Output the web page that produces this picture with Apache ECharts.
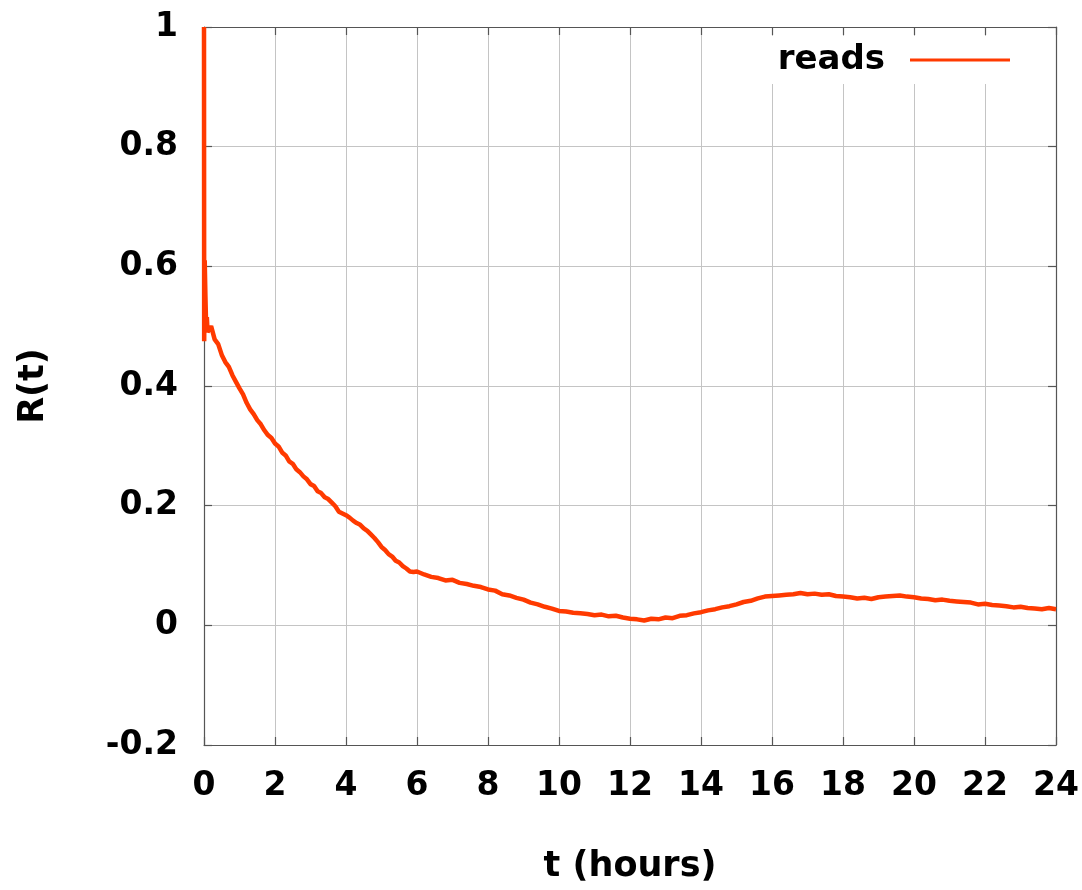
<!DOCTYPE html>
<html>
<head>
<meta charset="utf-8">
<script src="https://cdn.jsdelivr.net/npm/echarts@6/dist/echarts.min.js"></script>
<style>
html,body{margin:0;padding:0;background:#fff;}
#chart{width:1082px;height:890px;}
</style>
</head>
<body>
<div id="chart"></div>
<script>
const seriesName = 'reads';
const xTitle = 't (hours)';
const yTitle = 'R(t)';

const hours = [
  0, 0.005, 0.02, 0.04, 0.06, 0.08, 0.1,
  0.2, 0.3, 0.4, 0.5, 0.6, 0.7, 0.8, 0.9, 1.0,
  1.1, 1.2, 1.3, 1.4, 1.5, 1.6, 1.7, 1.8, 1.9, 2.0,
  2.1, 2.2, 2.3, 2.4, 2.5, 2.6, 2.7, 2.8, 2.9, 3.0,
  3.1, 3.2, 3.3, 3.4, 3.5, 3.6, 3.7, 3.8, 3.9, 4.0,
  4.1, 4.2, 4.3, 4.4, 4.5, 4.6, 4.7, 4.8, 4.9, 5.0,
  5.1, 5.2, 5.3, 5.4, 5.5, 5.6, 5.7, 5.8, 5.9, 6.0,
  6.2, 6.4, 6.6, 6.8, 7.0, 7.2, 7.4, 7.6, 7.8, 8.0,
  8.2, 8.4, 8.6, 8.8, 9.0, 9.2, 9.4, 9.6, 9.8, 10.0,
  10.2, 10.4, 10.6, 10.8, 11.0, 11.2, 11.4, 11.6, 11.8, 12.0,
  12.2, 12.4, 12.6, 12.8, 13.0, 13.2, 13.4, 13.6, 13.8, 14.0,
  14.2, 14.4, 14.6, 14.8, 15.0, 15.2, 15.4, 15.6, 15.8, 16.0,
  16.2, 16.4, 16.6, 16.8, 17.0, 17.2, 17.4, 17.6, 17.8, 18.0,
  18.2, 18.4, 18.6, 18.8, 19.0, 19.2, 19.4, 19.6, 19.8, 20.0,
  20.2, 20.4, 20.6, 20.8, 21.0, 21.2, 21.4, 21.6, 21.8, 22.0,
  22.2, 22.4, 22.6, 22.8, 23.0, 23.2, 23.4, 23.6, 23.8, 24.0
];

const reads = [
  1.0, 0.475, 0.61, 0.55, 0.50, 0.515, 0.49,
  0.50, 0.478, 0.47, 0.452, 0.44, 0.432, 0.418, 0.407, 0.396,
  0.386, 0.372, 0.361, 0.353, 0.343, 0.336, 0.326, 0.318, 0.313, 0.304,
  0.299, 0.289, 0.284, 0.274, 0.270, 0.261, 0.256, 0.249, 0.244, 0.236,
  0.233, 0.224, 0.221, 0.214, 0.211, 0.205, 0.199, 0.190, 0.187, 0.184,
  0.180, 0.175, 0.171, 0.168, 0.162, 0.158, 0.152, 0.146, 0.139, 0.131,
  0.126, 0.119, 0.115, 0.108, 0.105, 0.099, 0.095, 0.090, 0.089, 0.090,
  0.085, 0.081, 0.079, 0.075, 0.076, 0.071, 0.069, 0.066, 0.064, 0.060,
  0.058, 0.052, 0.050, 0.046, 0.043, 0.038, 0.035, 0.031, 0.028, 0.024,
  0.023, 0.021, 0.020, 0.019, 0.017, 0.018, 0.015, 0.016, 0.013, 0.011,
  0.010, 0.008, 0.011, 0.010, 0.013, 0.012, 0.016, 0.017, 0.020, 0.022,
  0.025, 0.027, 0.030, 0.032, 0.035, 0.039, 0.041, 0.045, 0.048, 0.049,
  0.050, 0.051, 0.052, 0.054, 0.052, 0.053, 0.051, 0.052, 0.049, 0.048,
  0.047, 0.045, 0.046, 0.044, 0.047, 0.048, 0.049, 0.050, 0.048, 0.047,
  0.045, 0.044, 0.042, 0.043, 0.041, 0.040, 0.039, 0.038, 0.035, 0.036,
  0.034, 0.033, 0.032, 0.030, 0.031, 0.029, 0.028, 0.027, 0.029, 0.027
];

const xMin = 0, xMax = 24, xStep = 2;
const yMin = -0.2, yMax = 1, yStep = 0.2;

const font = 'DejaVu Sans, Liberation Sans, Arial, sans-serif';
const labelStyle = {color:'#000', fontWeight:'bold', fontSize:33, fontFamily:font};
const titleStyle = {color:'#000', fontWeight:'bold', fontSize:35, fontFamily:font};
const frameColor = '#555';
const gridColor = '#c4c4c4';

const chart = echarts.init(document.getElementById('chart'), null, {renderer:'canvas'});

const mirrorAxisCommon = {
  axisLine:{show:true, onZero:false, lineStyle:{color:frameColor, width:1.2}},
  axisTick:{show:true, inside:true, length:8, lineStyle:{color:frameColor, width:1.2}},
  axisLabel:{show:false},
  splitLine:{show:false}
};

chart.setOption({
  animation:false,
  backgroundColor:'#fff',
  grid:{left:204, right:24, top:27, bottom:145, containLabel:false},
  legend:{
    data:[{name:seriesName, icon:'rect'}],
    right:30, top:36,
    align:'right',
    itemWidth:100, itemHeight:3,
    backgroundColor:'#fff',
    padding:[4, 42, 4, 6],
    textStyle:{color:'#000', fontWeight:'bold', fontSize:34, fontFamily:font, lineHeight:40, padding:[0, 20, 0, 0]}
  },
  xAxis:[
    {
      type:'value', min:xMin, max:xMax, interval:xStep,
      name:xTitle, nameLocation:'middle', nameGap:104,
      nameTextStyle:titleStyle,
      axisLine:{show:true, onZero:false, lineStyle:{color:frameColor, width:1.2}},
      axisTick:{show:true, inside:true, length:8, lineStyle:{color:frameColor, width:1.2}},
      axisLabel:Object.assign({margin:25}, labelStyle),
      splitLine:{show:true, lineStyle:{color:gridColor, width:1}}
    },
    Object.assign({type:'value', position:'top', min:xMin, max:xMax, interval:xStep}, mirrorAxisCommon)
  ],
  yAxis:[
    {
      type:'value', min:yMin, max:yMax, interval:yStep,
      name:yTitle, nameLocation:'middle', nameGap:153, nameRotate:90,
      nameTextStyle:titleStyle,
      axisLine:{show:true, onZero:false, lineStyle:{color:frameColor, width:1.2}},
      axisTick:{show:true, inside:true, length:8, lineStyle:{color:frameColor, width:1.2}},
      axisLabel:Object.assign({margin:26}, labelStyle),
      splitLine:{show:true, lineStyle:{color:gridColor, width:1}}
    },
    Object.assign({type:'value', position:'right', min:yMin, max:yMax, interval:yStep}, mirrorAxisCommon)
  ],
  series:[{
    name:seriesName,
    type:'line',
    data:hours.map((h, i) => [h, reads[i]]),
    showSymbol:false,
    symbol:'none',
    clip:false,
    lineStyle:{color:'#ff3a00', width:4.5},
    itemStyle:{color:'#ff3a00'}
  }]
});
</script>
</body>
</html>
